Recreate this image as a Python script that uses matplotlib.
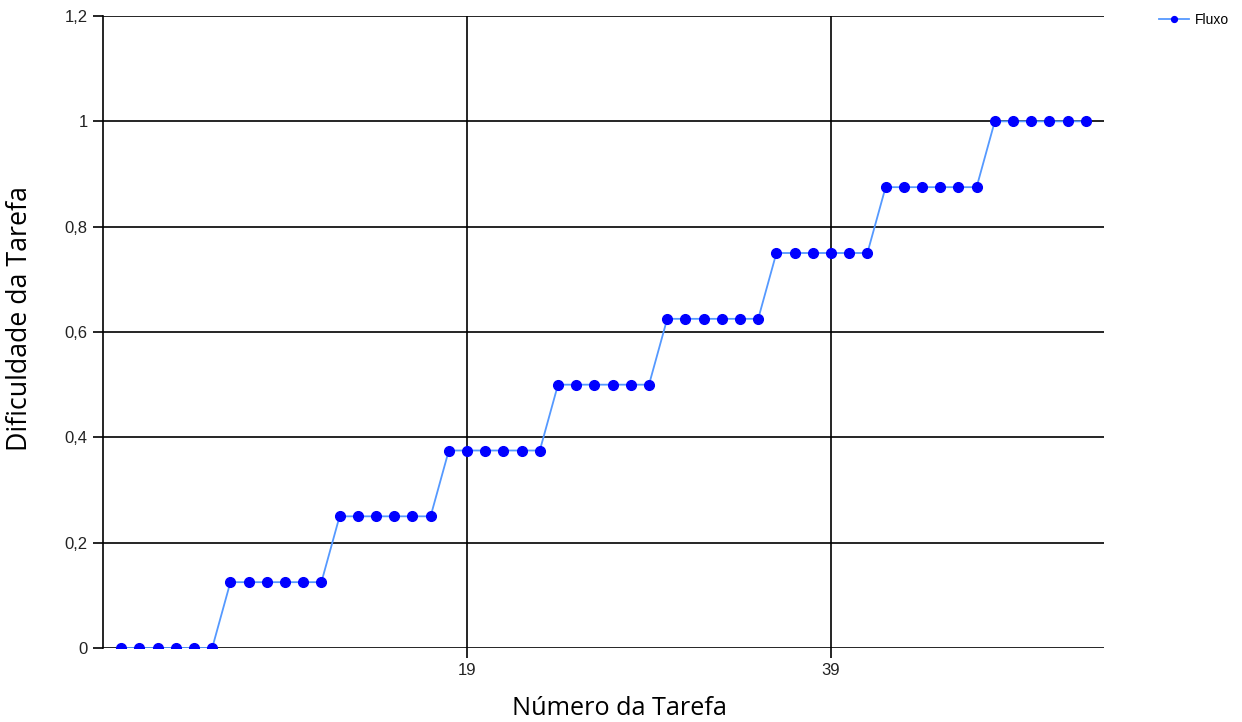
import matplotlib
matplotlib.use('Agg')
import matplotlib.pyplot as plt

# Dados: número da tarefa e dificuldade (degraus de 6 tarefas)
tarefas = list(range(0, 54))
dificuldade = ([0.0] * 6 + [0.125] * 6 + [0.25] * 6 + [0.375] * 6 + [0.5] * 6 +
               [0.625] * 6 + [0.75] * 6 + [0.875] * 6 + [1.0] * 6)
ticks_x = [19, 39]
ticks_y = [0, 0.2, 0.4, 0.6, 0.8, 1.0, 1.2]
rotulos_y = ['0', '0,2', '0,4', '0,6', '0,8', '1', '1,2']

fig = plt.figure(figsize=(12.42, 7.22), dpi=100)
ax = fig.add_axes([103 / 1242, 1 - 648 / 722, (1104 - 103) / 1242, (648 - 16) / 722])

ax.plot(tarefas, dificuldade, color='#5599ff', linewidth=1.3, marker='o',
        markersize=7, markerfacecolor='#0000ff', markeredgecolor='#0000ff',
        label='Fluxo', zorder=3)

ax.set_xlim(-1, 54)
ax.set_ylim(0, 1.2)
ax.set_xticks(ticks_x)
ax.set_yticks(ticks_y)
ax.set_yticklabels(rotulos_y)

ax.grid(True, color='black', linewidth=1.2)
ax.set_axisbelow(True)
for lado in ['top', 'right', 'bottom']:
    ax.spines[lado].set_visible(False)
ax.spines['left'].set_linewidth(1.2)
ax.tick_params(axis='both', length=7, width=1.2, color='black',
               labelsize=12, labelcolor='#222222', pad=4)
for t in ax.get_xticklabels() + ax.get_yticklabels():
    t.set_family(['Liberation Sans'])

ax.set_xlabel('Número da Tarefa', fontsize=18.2, family='Open Sans')
ax.set_ylabel('Dificuldade da Tarefa', fontsize=19.3, family='Open Sans')
ax.xaxis.set_label_coords(0.516, -0.095)
ax.yaxis.set_label_coords(-0.083, 0.522)
ax.xaxis.label.set_va('center')
ax.yaxis.label.set_va('center')

fig.legend(loc='upper left', bbox_to_anchor=(1146 / 1242, 1.0), frameon=False,
           prop={'family': 'Liberation Sans', 'size': 10}, handlelength=2.2,
           handletextpad=0.4, markerscale=0.6)

plt.savefig('out.png', dpi=100)
